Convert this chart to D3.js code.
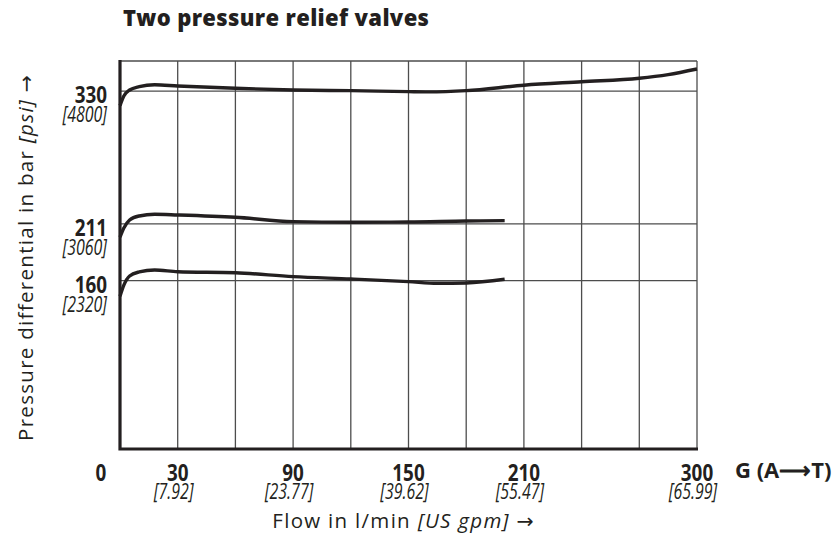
<!DOCTYPE html>
<html>
<head>
<meta charset="utf-8">
<script src="https://cdnjs.cloudflare.com/ajax/libs/d3/7.8.5/d3.min.js"></script>
<style>
  body { margin: 0; background: #fff; }
  svg { display: block; font-family: "Open Sans", sans-serif; fill: #231f20; }
  .arrow { font-family: "DejaVu Sans", sans-serif; letter-spacing: 0; }
</style>
</head>
<body>
<svg id="chart" width="840" height="539"></svg>
<script>
// flow [l/min] and pressure differential [bar]
const flowHigh = [0, 2, 5, 10, 18, 30, 60, 90, 120, 150, 160, 180, 210, 240, 270, 285, 300]
const barHigh  = [317, 325.6, 331, 334, 335.7, 334.6, 332.5, 331, 330.4, 329.5, 329.3, 330.4, 335.3, 338.4, 341.5, 344.8, 349.8]

const flowMid = [0, 2, 5, 10, 18, 30, 60, 90, 120, 150, 180, 200]
const barMid  = [199, 207.2, 214.4, 218, 219.5, 218.9, 216.8, 212.9, 212.4, 212.6, 213.5, 213.8]

const flowLow = [0, 2, 5, 10, 18, 30, 60, 90, 120, 150, 165, 180, 200]
const barLow  = [146, 156, 164.2, 167.8, 169.6, 168, 167.1, 163.6, 161.5, 159.1, 157.6, 157.9, 161.2]

// axis labels
const xGrid   = [30, 60, 90, 120, 150, 180, 210, 240, 270, 300]
const xTicks  = [30, 90, 150, 210, 300]
const xGpm    = ["[7.92]", "[23.77]", "[39.62]", "[55.47]", "[65.99]"]
const yTicks  = [330, 211, 160]
const yPsi    = ["[4800]", "[3060]", "[2320]"]

const svg = d3.select("#chart")

const x = d3.scaleLinear().domain([0, 300]).range([120, 697])
const y = d3.scaleLinear().domain([9, 357]).range([449, 61])

// text squeezed sideways, to get closer to the narrow numerals
function label(g, px, py, str, o) {
    return g.append("text")
        .attr("transform", `translate(${px},${py}) scale(${o.sx || 1},1)`)
        .attr("text-anchor", o.anchor || "middle")
        .style("font-size", o.size + "px")
        .style("font-weight", o.weight || 400)
        .style("font-style", o.italic ? "italic" : "normal")
        .text(str)
}

// grid
const grid = svg.append("g").attr("stroke", "#4d4d4d").attr("stroke-width", 1.3)
grid.selectAll("line.v")
    .data(xGrid)
    .join("line")
    .attr("class", "v")
    .attr("x1", d => x(d)).attr("x2", d => x(d))
    .attr("y1", y(357)).attr("y2", y(9))
grid.selectAll("line.h")
    .data(yTicks.concat([357]))
    .join("line")
    .attr("class", "h")
    .attr("x1", x(0)).attr("x2", x(300))
    .attr("y1", d => y(d)).attr("y2", d => y(d))

// curves
const line = d3.line()
    .x(d => x(d[0]))
    .y(d => y(d[1]))
    .curve(d3.curveMonotoneX)

const curves = [
    d3.zip(flowHigh, barHigh),
    d3.zip(flowMid, barMid),
    d3.zip(flowLow, barLow)
]
svg.append("g")
    .selectAll("path")
    .data(curves)
    .join("path")
    .attr("d", line)
    .attr("fill", "none")
    .attr("stroke", "#231f20")
    .attr("stroke-width", 3.4)
    .attr("stroke-linecap", "butt")

// heavy left and bottom axis lines
svg.append("path")
    .attr("d", `M${x(0)},${y(357) - 1}V${y(9)}H${x(300) + 1}`)
    .attr("fill", "none")
    .attr("stroke", "#231f20")
    .attr("stroke-width", 3.2)

// y labels
const yl = svg.append("g")
yTicks.forEach((v, i) => {
    label(yl, 107, y(v) + 12, v, { size: 23, weight: 700, sx: 0.82, anchor: "end" })
    label(yl, 107, y(v) + 31, yPsi[i], { size: 21, italic: true, sx: 0.76, anchor: "end" })
})

// x labels
const xl = svg.append("g")
label(xl, 101, 481, "0", { size: 23, weight: 700, sx: 0.82 })
xTicks.forEach((v, i) => {
    label(xl, x(v), 481, v, { size: 23, weight: 700, sx: 0.82 })
    label(xl, x(v) - 4, 499, xGpm[i], { size: 21, italic: true, sx: 0.76 })
})
label(xl, 735, 478, "G (A⟶T)", { size: 22, weight: 700, anchor: "start" })

// title
svg.append("text")
    .attr("x", 123).attr("y", 26)
    .style("font-size", "22px")
    .style("font-weight", 800)
    .style("letter-spacing", "0.35px")
    .text("Two pressure relief valves")

// axis titles
const xt = svg.append("text")
    .attr("x", 403).attr("y", 528)
    .attr("text-anchor", "middle")
    .style("font-size", "20.5px")
    .style("letter-spacing", "1.3px")
xt.append("tspan").text("Flow in l/min ")
xt.append("tspan").style("font-style", "italic").text("[US gpm] ")
xt.append("tspan").attr("class", "arrow").text("→")

const yt = svg.append("text")
    .attr("transform", "translate(33,258) rotate(-90)")
    .attr("text-anchor", "middle")
    .style("font-size", "20.5px")
    .style("letter-spacing", "1.3px")
yt.append("tspan").text("Pressure differential in bar ")
yt.append("tspan").style("font-style", "italic").text("[psi] ")
yt.append("tspan").attr("class", "arrow").text("→")
</script>
</body>
</html>
